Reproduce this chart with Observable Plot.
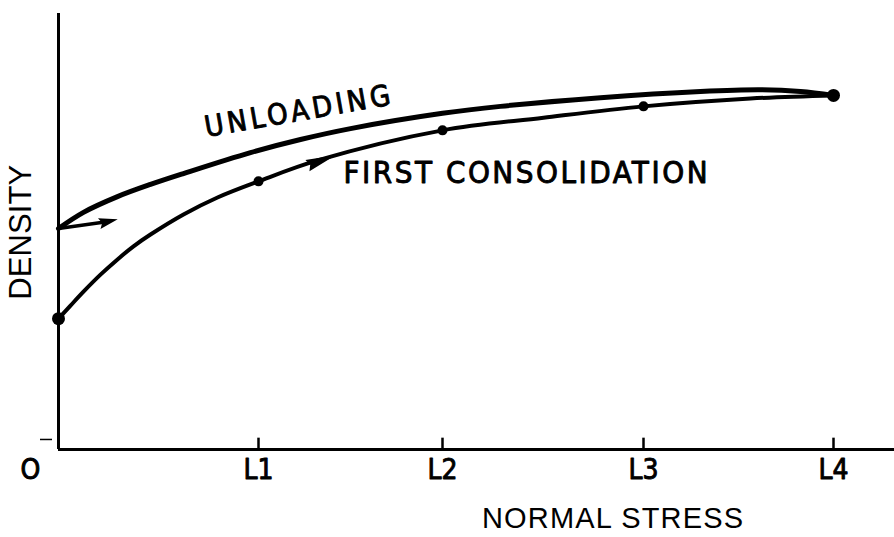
<!DOCTYPE html>
<html>
<head>
<meta charset="utf-8">
<script src="https://cdn.jsdelivr.net/npm/d3@7"></script>
<script src="https://cdn.jsdelivr.net/npm/@observablehq/plot@0.6"></script>
<style>
  html, body { margin: 0; padding: 0; background: #fff; }
  svg { display: block; }
</style>
</head>
<body>
<div id="chart"></div>
<script>
// ---- data (normal stress in arbitrary units, density in arbitrary units) ----
const stressTicks = [1.0, 1.92, 2.925, 3.875];
const stressLabels = ["L1", "L2", "L3", "L4"];

// first consolidation curve (traced)
const consolX = [0, 0.06, 0.125, 0.21, 0.295, 0.375, 0.46, 0.625, 0.795, 1.0, 1.295, 1.92, 2.425, 2.925, 3.46, 3.875];
const consolY = [30.0, 33.0, 36.2, 40.1, 43.6, 46.6, 49.3, 53.9, 57.8, 61.5, 66.3, 73.2, 76.1, 78.7, 80.5, 81.2];

// measured points on first consolidation
const pointX = [0, 1.0, 1.92, 2.925, 3.875];
const pointY = [30.0, 61.5, 73.2, 78.7, 81.2];

// unloading curve (traced)
const unloadX = [0, 0.125, 0.295, 0.46, 0.625, 0.96, 1.21, 1.46, 1.92, 2.21, 2.71, 3.21, 3.51, 3.71, 3.875];
const unloadY = [50.7, 54.4, 58.0, 60.8, 63.3, 68.1, 71.1, 73.6, 77.1, 78.7, 80.7, 82.1, 82.5, 82.1, 81.2];

// direction arrows
const arrowShaftX = [0, 0.25];
const arrowShaftY = [50.7, 52.3];
const arrowHeads = [
  {x: 0.25, y: 52.3, angle: 77, len: 19, w: 11},
  {x: 1.315, y: 66.3, angle: 70, len: 30, w: 12}
];

const consol = consolX.map((x, i) => ({x, y: consolY[i]}));
const points = pointX.map((x, i) => ({x, y: pointY[i]}));
const endPoints = points.filter((d, i) => i === 0 || i === points.length - 1);
const midPoints = points.filter((d, i) => i !== 0 && i !== points.length - 1);
const unload = unloadX.map((x, i) => ({x, y: unloadY[i]}));
const shaft = arrowShaftX.map((x, i) => ({x, y: arrowShaftY[i]}));

function headSymbol(len, w) {
  return {
    draw(ctx) {
      ctx.moveTo(0, -len / 2);
      ctx.lineTo(w / 2, len / 2);
      ctx.lineTo(0, len / 2 - 3);
      ctx.lineTo(-w / 2, len / 2);
      ctx.closePath();
    }
  };
}

const labelFont = "'DejaVu Sans Condensed', sans-serif";
const plainFont = "'Liberation Sans', Arial, Helvetica, sans-serif";
const letter = {fontFamily: labelFont, fontWeight: "normal", fill: "black", stroke: "black", strokeWidth: 0.9};

const chart = Plot.plot({
  width: 894,
  height: 537,
  marginLeft: 58,
  marginRight: 0,
  marginTop: 13,
  marginBottom: 88,
  x: {domain: [0, 4.18], axis: null},
  y: {domain: [0, 100], axis: null},
  marks: [
    // axes frame
    Plot.ruleX([0], {stroke: "black", strokeWidth: 3}),
    Plot.ruleY([0], {stroke: "black", strokeWidth: 3}),
    // x ticks (pointing up)
    Plot.ruleX(stressTicks, {y1: 0, y2: 2.6, stroke: "black", strokeWidth: 2.5}),
    // small tick near origin on y
    Plot.axisY({ticks: [2.3], tickSize: 12, dx: -6, tickFormat: () => "", label: null, stroke: "black", strokeWidth: 1.5}),
    // tick labels
    Plot.text(stressTicks, {x: d => d, frameAnchor: "bottom", lineAnchor: "middle", dy: 21, text: (d, i) => stressLabels[i],
      fontSize: 28, ...letter}),
    Plot.text(["O"], {x: 0, frameAnchor: "bottom", lineAnchor: "middle", dy: 21, dx: -28, text: d => d,
      fontSize: 28, ...letter}),
    // axis titles
    Plot.text(["NORMAL STRESS"], {x: 2.77, frameAnchor: "bottom", lineAnchor: "middle", textAnchor: "middle", dy: 69, text: d => d,
      fontSize: 29, fontFamily: plainFont, fill: "black"}),
    Plot.text(["DENSITY"], {y: 49.8, frameAnchor: "left", textAnchor: "middle", lineAnchor: "middle", dx: -37, rotate: -90, text: d => d,
      fontSize: 31, fontFamily: plainFont, fill: "black"}),
    // curves
    Plot.line(unload, {x: "x", y: "y", curve: "catmull-rom", stroke: "black", strokeWidth: 5,
      strokeLinecap: "round", strokeLinejoin: "round"}),
    Plot.line(consol, {x: "x", y: "y", curve: "catmull-rom", stroke: "black", strokeWidth: 4,
      strokeLinecap: "round", strokeLinejoin: "round"}),
    Plot.line(shaft, {x: "x", y: "y", stroke: "black", strokeWidth: 3.5, strokeLinecap: "round"}),
    // arrow heads
    ...arrowHeads.map(a => Plot.dot([a], {x: "x", y: "y", symbol: headSymbol(a.len, a.w),
      rotate: a.angle, fill: "black", stroke: "none", r: 1})),
    // measured points
    Plot.dot(endPoints, {x: "x", y: "y", r: 6.5, fill: "black", stroke: "none"}),
    Plot.dot(midPoints, {x: "x", y: "y", r: 5, fill: "black", stroke: "none"}),
    // curve labels
    Plot.text(["UNLOADING"], {x: 1.195, y: 77.5, rotate: -10, text: d => d,
      fontSize: 29, ...letter}),
    Plot.text(["FIRST CONSOLIDATION"], {x: 2.335, y: 63.5, text: d => d,
      fontSize: 31, ...letter})
  ]
});

// fit label widths to the reference lettering
const fitWidths = {"FIRST CONSOLIDATION": 364, "UNLOADING": 188, "NORMAL STRESS": 261, "DENSITY": 135};
chart.querySelectorAll("text").forEach(t => {
  const w = fitWidths[t.textContent];
  if (w) { t.setAttribute("textLength", w); t.setAttribute("lengthAdjust", "spacing"); }
});

document.getElementById("chart").appendChild(chart);
</script>
</body>
</html>
